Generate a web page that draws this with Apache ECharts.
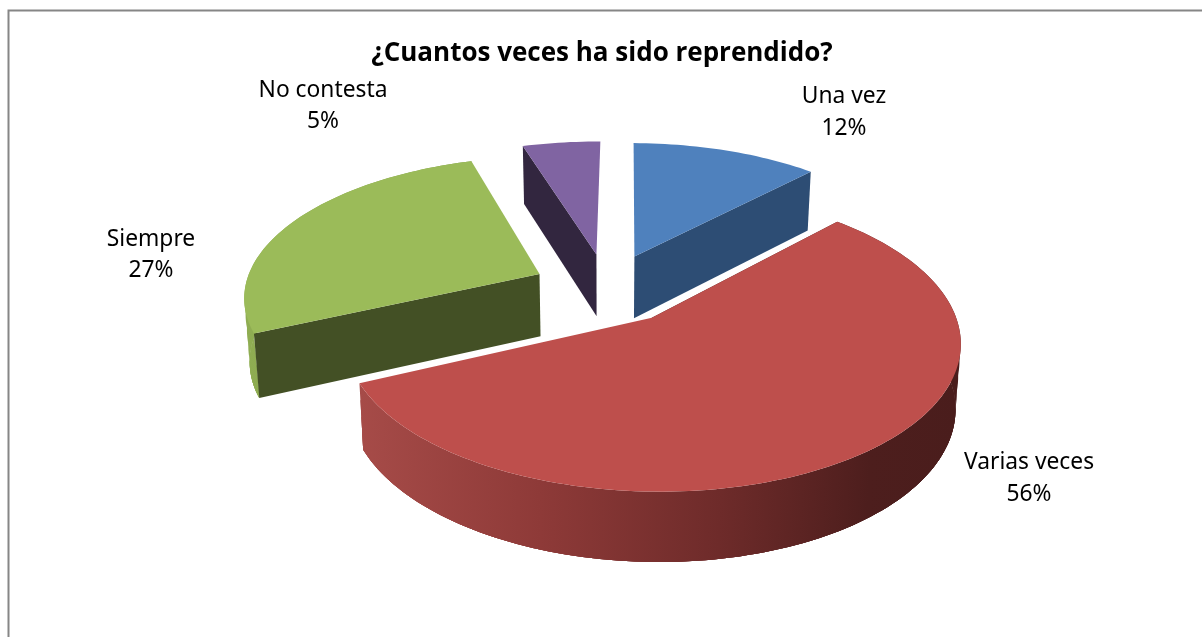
<!DOCTYPE html>
<html>
<head>
<meta charset="utf-8">
<title>Reprendido</title>
<script src="https://cdn.jsdelivr.net/npm/echarts@6/dist/echarts.min.js"></script>
<style>
html, body { margin: 0; padding: 0; background: #fff; }
#main { width: 1202px; height: 637px; }
</style>
</head>
<body>
<div id="main"></div>
<script>
var categories = ['Una vez', 'Varias veces', 'Siempre', 'No contesta'];
var values = [12, 56, 27, 5];

var topColors = ['#4F81BD', '#BE4F4C', '#9BBB59', '#8064A2'];
var cutColors = ['#2D4D74', '#4A1D1C', '#435025', '#32263F'];
var wallStops = [
    [[0, '#3A5F8C'], [1, '#2D4D74']],
    [[0, '#A64B48'], [0.3, '#8E3A38'], [0.6, '#6E2B2A'], [0.85, '#4D1E1D'], [1, '#4A1D1C']],
    [[0, '#8FAD52'], [1, '#7E9A47']],
    [[0, '#5E4A78'], [1, '#32263F']]
];
var labelPos = [[844, 112.5], [1029, 478.5], [151, 255], [323, 106]];

// ground plane to screen
var view = { x: 607, y: 288, depth: 2000, tilt: 0.47, radius: 295, explode: 75, start: 0.6 };

// drop: 0 is the top face, 1 the lower face
function project(gx, gz, drop) {
    var s = 1 / (1 - gz / view.depth);
    var x = gx * s * (1 - 0.015 * drop);
    var y = view.tilt * gz * s + (29 + 34 * s) * drop;
    return [view.x + x, view.y + y];
}

var total = values.reduce(function (a, b) { return a + b; }, 0);
var slices = [];
var run = 0;
values.forEach(function (v, i) {
    var first = view.start * Math.PI / 180;
    var a0 = first + run / total * Math.PI * 2;
    run += v;
    var a1 = first + run / total * Math.PI * 2;
    var mid = (a0 + a1) / 2;
    slices.push({ i: i, a0: a0, a1: a1, ox: Math.sin(mid) * view.explode, oz: -Math.cos(mid) * view.explode });
});

function rim(sl, drop) {
    var pts = [];
    var n = Math.max(8, Math.round((sl.a1 - sl.a0) * 40));
    for (var k = 0; k <= n; k++) {
        var a = sl.a0 + (sl.a1 - sl.a0) * k / n;
        pts.push(project(sl.ox + Math.sin(a) * view.radius, sl.oz - Math.cos(a) * view.radius, drop));
    }
    return pts;
}

function poly(points, fill, z) {
    return { type: 'polygon', z2: z, shape: { points: points }, style: { fill: fill, stroke: null } };
}

function renderSlice(params, api) {
    var sl = slices[api.value(0)];
    var top = rim(sl, 0);
    var low = rim(sl, 1);
    var apexTop = project(sl.ox, sl.oz, 0);
    var apexLow = project(sl.ox, sl.oz, 1);
    var stops = wallStops[sl.i].map(function (s) { return { offset: s[0], color: s[1] }; });
    var wall = new echarts.graphic.LinearGradient(0, 0, 1, 0, stops);
    var n = top.length - 1;
    // slices right of the centre show their last cut edge, left ones their first
    var showEnd = sl.i === 0;
    var seen = showEnd ? n : 0;
    var kids = [];
    // slices wholly on the far side have no visible wall
    var farSide = sl.a1 < Math.PI / 2 || sl.a0 > Math.PI * 1.5;
    if (!farSide) {
        // wall built from a few overlapping bands so the side outline stays filled
        [0, 0.25, 0.5, 0.75].forEach(function (d) {
            kids.push(poly(rim(sl, d).concat(low.slice().reverse()), wall, 2));
        });
    }
    kids.push(poly([apexTop, top[seen], low[seen], apexLow], cutColors[sl.i], 3));
    kids.push(poly([apexTop].concat(top), topColors[sl.i], 4));
    return { type: 'group', children: kids };
}

// back slices first, the big front one last
var drawOrder = [3, 0, 2, 1];

var myChart = echarts.init(document.getElementById('main'), null, { renderer: 'canvas' });
myChart.setOption({
    animation: false,
    backgroundColor: '#fff',
    title: {
        text: '¿Cuantos veces ha sido reprendido?',
        left: 597, top: 36, textAlign: 'center',
        textStyle: { fontFamily: 'Open Sans', fontSize: 26, fontWeight: 'bold', color: '#000' }
    },
    graphic: [{
        type: 'polyline', silent: true,
        shape: { points: [[8.5, 637], [8.5, 10.5], [1202, 10.5]] },
        style: { stroke: '#868686', lineWidth: 2, fill: null }
    }],
    series: [{
        type: 'custom',
        coordinateSystem: 'none',
        silent: true,
        data: drawOrder.map(function (i) { return [i]; }),
        renderItem: renderSlice
    }, {
        type: 'custom',
        coordinateSystem: 'none',
        silent: true,
        z: 5,
        data: categories.map(function (c, i) { return [i]; }),
        renderItem: function (params, api) {
            var i = api.value(0);
            return {
                type: 'text',
                x: labelPos[i][0], y: labelPos[i][1],
                style: {
                    text: categories[i] + '\n' + values[i] + '%',
                    align: 'center', verticalAlign: 'middle',
                    font: '22.8px "Noto Sans"', lineHeight: 31.5, fill: '#000'
                }
            };
        }
    }]
});
</script>
</body>
</html>
